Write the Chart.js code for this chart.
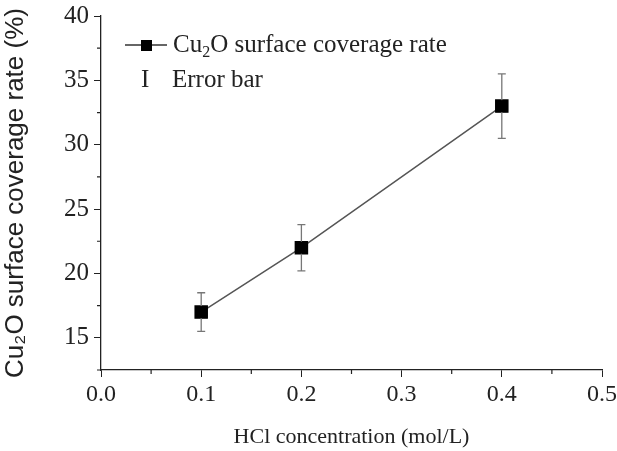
<!DOCTYPE html>
<html>
<head>
<meta charset="utf-8">
<script src="https://cdn.jsdelivr.net/npm/chart.js@4.4.1/dist/chart.umd.min.js"></script>
<style>
  html, body { margin: 0; padding: 0; background: #fff; }
  #wrap { width: 617px; height: 451px; }
</style>
</head>
<body>
<div id="wrap"><canvas id="chart"></canvas></div>
<script>
const concentration = [0.1, 0.2, 0.4];
const coverage = [17, 22, 33];
const errorSize = [1.5, 1.8, 2.5];
const seriesLabel = "Cu\u2082O surface coverage rate";
const errorLabel = "Error bar";

const serif = "'Liberation Serif', 'Times New Roman', serif";
const sans = "'Liberation Sans', Arial, sans-serif";

const isMajor = (v, step) => Math.abs(Math.round(v / step) * step - v) < 1e-6;

// error bars, minor ticks and legend drawn through the chart's scales
const extras = {
  id: "extras",
  afterDatasetsDraw(chart) {
    const ctx = chart.ctx;
    const xs = chart.scales.x;
    const ys = chart.scales.y;
    ctx.save();

    // minor ticks (shorter than major ones)
    ctx.strokeStyle = "#222";
    ctx.lineWidth = 1.2;
    ctx.beginPath();
    xs.ticks.forEach((t) => {
      if (isMajor(t.value, 0.1)) return;
      const px = xs.getPixelForValue(t.value);
      ctx.moveTo(px, xs.top); ctx.lineTo(px, xs.top + 4);
    });
    ys.ticks.forEach((t) => {
      if (isMajor(t.value, 5)) return;
      const py = ys.getPixelForValue(t.value);
      ctx.moveTo(ys.right, py); ctx.lineTo(ys.right - 4, py);
    });
    ctx.stroke();

    ctx.strokeStyle = "#777";
    ctx.lineWidth = 1.3;
    concentration.forEach((c, i) => {
      const px = xs.getPixelForValue(c);
      const top = ys.getPixelForValue(coverage[i] + errorSize[i]);
      const bot = ys.getPixelForValue(coverage[i] - errorSize[i]);
      ctx.beginPath();
      ctx.moveTo(px, top); ctx.lineTo(px, bot);
      ctx.moveTo(px - 4, top); ctx.lineTo(px + 4, top);
      ctx.moveTo(px - 4, bot); ctx.lineTo(px + 4, bot);
      ctx.stroke();
    });
    // markers on top of the error bars
    const meta = chart.getDatasetMeta(0);
    ctx.fillStyle = "#000";
    meta.data.forEach((pt) => {
      ctx.fillRect(pt.x - 6, pt.y - 6, 12, 12);
    });

    // legend
    const lx = 125, ly = 45;
    ctx.strokeStyle = "#333";
    ctx.lineWidth = 1.5;
    ctx.beginPath();
    ctx.moveTo(lx, ly); ctx.lineTo(lx + 42, ly);
    ctx.stroke();
    ctx.fillRect(lx + 16, ly - 5, 11, 11);
    ctx.fillStyle = "#222";
    ctx.font = "25px " + serif;
    ctx.textBaseline = "middle";
    ctx.textAlign = "left";
    ctx.fillText("Cu", 173, ly);
    const w = ctx.measureText("Cu").width;
    ctx.font = "16px " + serif;
    ctx.fillText("2", 173 + w, ly + 8);
    const w2 = ctx.measureText("2").width;
    ctx.font = "25px " + serif;
    ctx.fillText("O surface coverage rate", 173 + w + w2, ly);
    ctx.fillText("I", 141, 80);
    ctx.fillText(errorLabel, 172, 80);
    ctx.restore();
  },
};

new Chart(document.getElementById("chart"), {
  type: "scatter",
  data: {
    datasets: [
      {
        label: seriesLabel,
        data: concentration.map((c, i) => ({ x: c, y: coverage[i] })),
        showLine: true,
        borderColor: "#555",
        borderWidth: 1.5,
        pointStyle: "rect",
        pointRadius: 8.5,
        pointBackgroundColor: "#000",
        pointBorderColor: "#000",
      },
    ],
  },
  options: {
    responsive: true,
    maintainAspectRatio: false,
    animation: false,
    layout: { padding: { left: 0, right: 15, top: 16, bottom: 0 } },
    plugins: { legend: { display: false }, tooltip: { enabled: false } },
    scales: {
      x: {
        type: "linear",
        min: 0,
        max: 0.5,
        afterFit: (s) => { s.height = 81; s.paddingRight = 0; s.paddingLeft = 0; },
        border: { display: true, color: "#222", width: 1.3 },
        grid: {
          drawOnChartArea: false,
          drawTicks: true,
          tickLength: 7,
          tickColor: (c) => (c.tick && isMajor(c.tick.value, 0.1) ? "#222" : "rgba(0,0,0,0)"),
        },
        ticks: {
          stepSize: 0.05,
          autoSkip: false,
          color: "#222",
          font: { family: serif, size: 24 },
          padding: 3,
          maxRotation: 0,
          callback: (v) => (isMajor(v, 0.1) ? v.toFixed(1) : ""),
        },
        title: {
          display: true,
          text: "HCl concentration (mol/L)",
          color: "#222",
          font: { family: serif, size: 22 },
          padding: { top: 0, bottom: 1 },
        },
      },
      y: {
        min: 12.5,
        max: 40,
        afterFit: (s) => { s.width = 101; s.paddingTop = 0; s.paddingBottom = 0; },
        border: { display: true, color: "#222", width: 1.3 },
        grid: {
          drawOnChartArea: false,
          drawTicks: true,
          tickLength: 7,
          tickColor: (c) => (c.tick && isMajor(c.tick.value, 5) ? "#222" : "rgba(0,0,0,0)"),
        },
        ticks: {
          stepSize: 2.5,
          autoSkip: false,
          color: "#222",
          font: { family: serif, size: 25 },
          padding: 5,
          callback: (v) => (isMajor(v, 5) ? String(v) : ""),
        },
        title: {
          display: true,
          text: "Cu\u2082O surface coverage rate (%)",
          color: "#222",
          font: { family: sans, size: 26 },
          padding: { top: 0, bottom: 0 },
        },
      },
    },
  },
  plugins: [extras],
});
</script>
</body>
</html>
